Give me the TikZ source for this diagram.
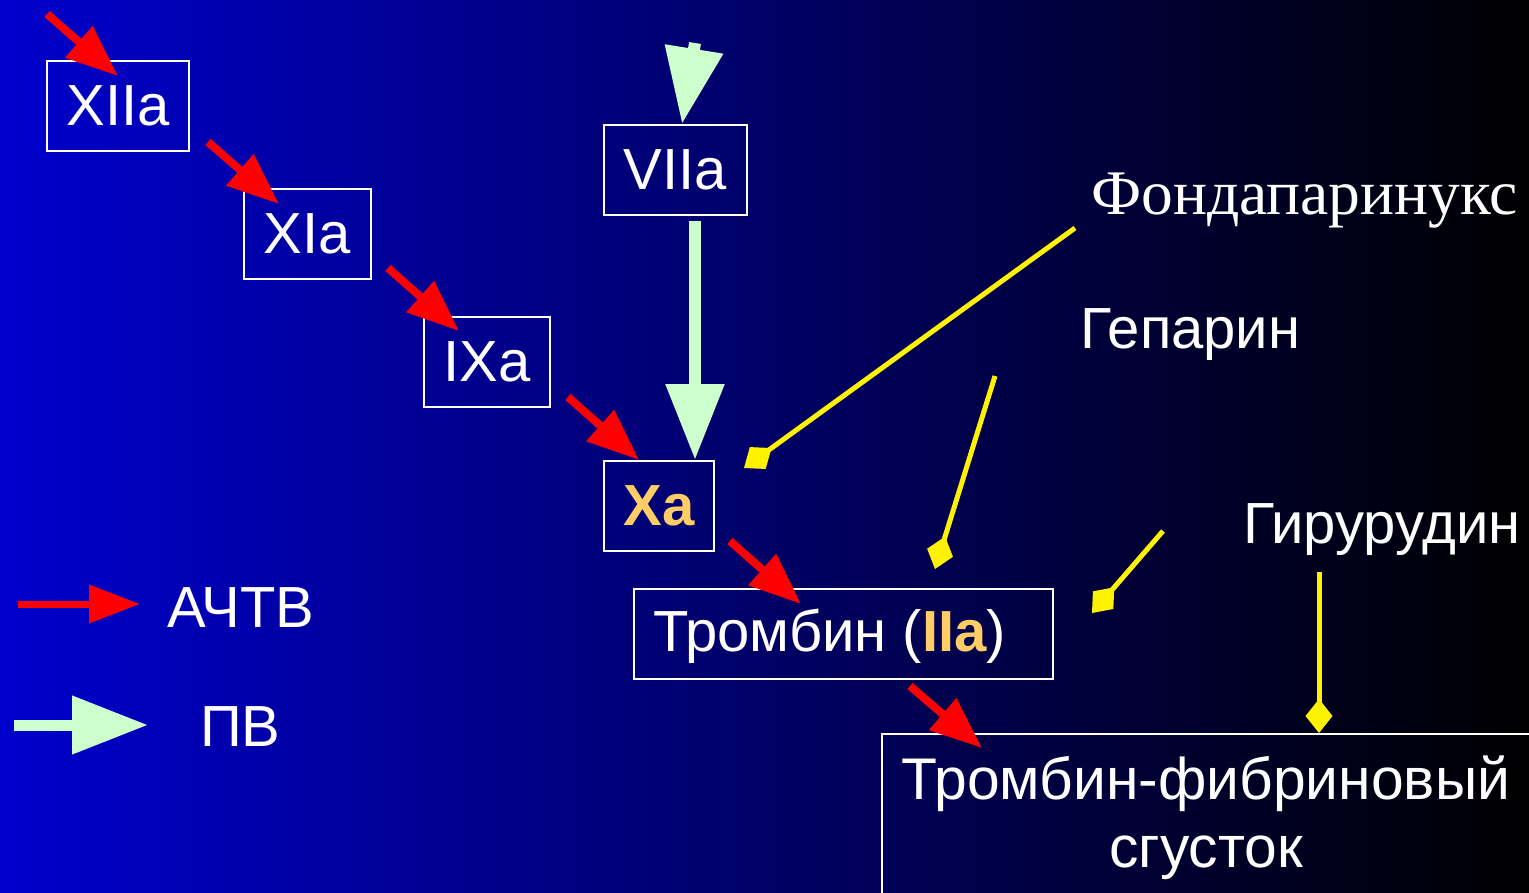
\documentclass[tikz,border=0pt]{standalone}
\usepackage{fontspec}
\setmainfont{Liberation Sans}
\newfontfamily\serifcyr{Liberation Serif}
\usetikzlibrary{arrows.meta}
\definecolor{bgleft}{RGB}{0,0,205}
\definecolor{bgmid}{RGB}{0,0,120}
\definecolor{pvgreen}{RGB}{204,255,204}
\definecolor{xaorange}{RGB}{255,204,102}
\tikzset{
  factor/.style={draw=white, line width=1.5pt, text=white, inner sep=0pt,
    font=\fontsize{58}{70}\selectfont},
  label/.style={text=white, inner sep=0pt, font=\fontsize{58}{70}\selectfont},
  redarrow/.style={draw=red, line width=8pt,
    -{Triangle[length=52pt,width=40pt,fill=red]}},
  greenarrow/.style={draw=pvgreen, line width=12pt,
    -{Triangle[length=76pt,width=56pt,fill=pvgreen]}},
  inhib/.style={draw=yellow, line width=5pt,
    -{Diamond[length=34pt,width=27pt,fill=yellow]}},
}
\begin{document}
\begin{tikzpicture}[x=1pt,y=-1pt]
\useasboundingbox (0,0) rectangle (1529,892);
\clip (0,0) rectangle (1529,892);
\shade[left color=bgleft, middle color=bgmid, right color=black] (0,0) rectangle (1529,892);

% factor boxes
\node[factor, minimum width=142pt, minimum height=90pt] (XIIa) at (118,106) {XIIa};
\node[factor, minimum width=127pt, minimum height=90pt] (XIa) at (307.5,234) {XIa};
\node[factor, minimum width=126pt, minimum height=90pt] (IXa) at (487,362) {IXa};
\node[factor, minimum width=143pt, minimum height=90pt] (VIIa) at (675.5,170) {VIIa};
\node[factor, minimum width=110pt, minimum height=90pt, text=xaorange, font=\fontsize{58}{70}\selectfont\bfseries] (Xa) at (659,506) {Xa};
\node[factor, minimum width=419pt, minimum height=90pt] (IIa) at (843.5,634) {};
\node[label, anchor=base west] (IIatext) at (653,651) {Тромбин (\textcolor{xaorange}{\bfseries IIa})};
\node[factor, minimum width=700pt, minimum height=240pt, anchor=north west] (clot) at (881,733) {};
\node[label, anchor=base, font=\fontsize{58.8}{70}\selectfont] (clot1) at (1206,799) {Тромбин-фибриновый};
\node[label, anchor=base, font=\fontsize{58.8}{70}\selectfont] (clot2) at (1206,867) {сгусток};

% legend / drug labels
\node[label, anchor=base west] (aptt) at (167,627) {АЧТВ};
\node[label, anchor=base west] (pt) at (200,746) {ПВ};
\node[label, anchor=base west, font=\fontsize{63.5}{72}\selectfont\serifcyr] (fonda) at (1091,214) {Фондапаринукс};
\node[label, anchor=base west] (hep) at (1080,348) {Гепарин};
\node[label, anchor=base west] (hir) at (1243,543) {Гирурудин};

% red cascade arrows
\coordinate (r1s) at (47,14);   \coordinate (r1e) at (118,76);
\coordinate (r2s) at (208,142); \coordinate (r2e) at (279,204);
\coordinate (r3s) at (388,268); \coordinate (r3e) at (459,331);
\coordinate (r4s) at (568,397); \coordinate (r4e) at (639,460);
\coordinate (r5s) at (730,541); \coordinate (r5e) at (801,604);
\coordinate (r6s) at (910,686); \coordinate (r6e) at (982,748);
\draw[redarrow] (r1s) -- (r1e);
\draw[redarrow] (r2s) -- (r2e);
\draw[redarrow] (r3s) -- (r3e);
\draw[redarrow] (r4s) -- (r4e);
\draw[redarrow] (r5s) -- (r5e);
\draw[redarrow] (r6s) -- (r6e);

% green arrows
\coordinate (g1s) at (695,43);  \coordinate (g1e) at (682,124);
\coordinate (g2s) at (695,221); \coordinate (g2e) at (695,460);
\draw[greenarrow] (g1s) -- (g1e);
\draw[greenarrow] (g2s) -- (g2e);

% legend arrows
\coordinate (lr1) at (18,604);  \coordinate (lr2) at (140,604);
\coordinate (lg1) at (14,725);  \coordinate (lg2) at (148,725);
\draw[redarrow, line width=7pt, -{Triangle[length=51pt,width=37pt,fill=red]}] (lr1) -- (lr2);
\draw[greenarrow, line width=11pt] (lg1) -- (lg2);

% inhibitor lines
\coordinate (y1s) at (1075,228); \coordinate (y1e) at (744,468);
\coordinate (y2s) at (995,376);  \coordinate (y2e) at (935,569);
\coordinate (y3s) at (1163,531); \coordinate (y3e) at (1092,613);
\coordinate (y4s) at (1319,572); \coordinate (y4e) at (1319,733);
\draw[inhib] (y1s) -- (y1e);
\draw[inhib] (y2s) -- (y2e);
\draw[inhib] (y3s) -- (y3e);
\draw[inhib] (y4s) -- (y4e);
\end{tikzpicture}
\end{document}
